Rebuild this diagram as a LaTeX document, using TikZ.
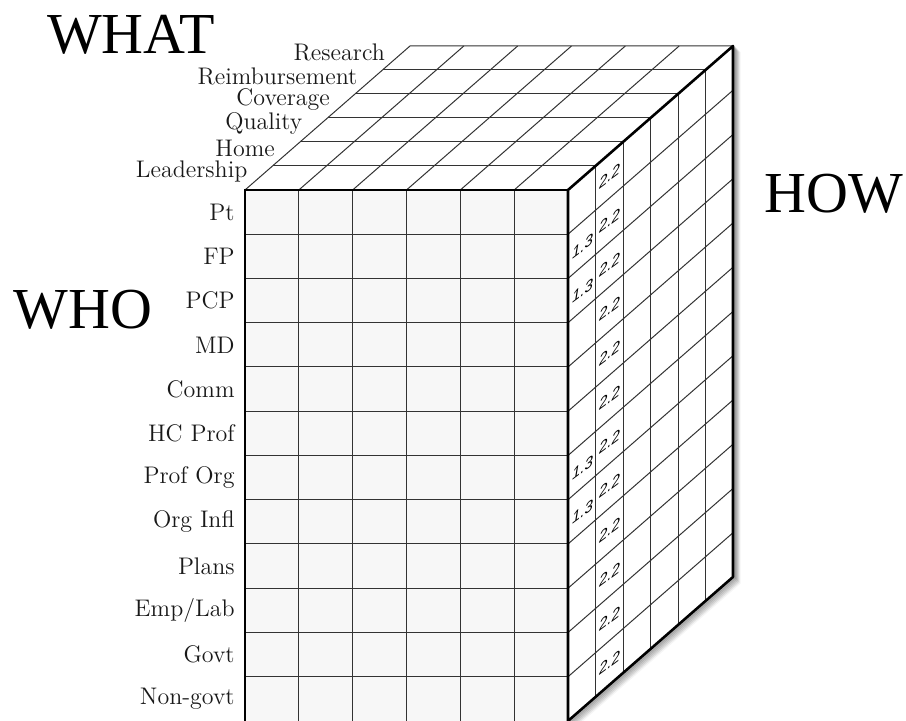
\documentclass[tikz,border=0pt]{standalone}
\usepackage{fontspec}
\usetikzlibrary{calc}

\newfontfamily\titlefont{Liberation Serif}
\newfontfamily\scorefont{Liberation Sans}
\newcommand{\colw}{53.83}
\newcommand{\rowh}{44.25}

\begin{document}
\begin{tikzpicture}[x=0.5pt, y=-0.5pt,
    gridline/.style={draw=black!80, line width=0.5pt},
    edgeline/.style={draw=black, line width=1.3pt, line join=round, line cap=round},
    rowlabel/.style={anchor=east, inner sep=0pt, text=black!90, font=\fontsize{12}{14}\selectfont},
    biglabel/.style={inner sep=0pt, text=black, font=\titlefont\fontsize{29}{32}\selectfont},
    score/.style={inner sep=0pt, yslant=0.75, text=black, font=\scorefont\itshape\fontsize{7.5}{8}\selectfont}]

    \useasboundingbox (0,0) rectangle (906,721);

    % shadow under the side face
    \foreach \s in {1,...,6}
        \draw[line width=1.5pt, draw=black, opacity={0.22-0.03*\s}, shift={(\s,\s)}] (568,721) -- (733,577) -- (733,46);

    % front face (who)
    \fill[black!3] (245,190) rectangle (568,721);
    \foreach \c in {1,...,5}
        \draw[gridline] ({245+\colw*\c},190) -- ({245+\colw*\c},721);
    \foreach \r in {1,...,11}
        \draw[gridline] (245,{190+\rowh*\r}) -- (568,{190+\rowh*\r});

    % top face (what)
    \fill[white] (245,190) -- (568,190) -- (733,46) -- (410,46) -- cycle;
    \foreach \j in {1,...,5}
        \draw[gridline] ({245+27.5*\j},{190-24*\j}) -- ({568+27.5*\j},{190-24*\j});
    \foreach \c in {1,...,5}
        \draw[gridline] ({245+\colw*\c},190) -- ({410+\colw*\c},46);
    \draw[gridline] (245,190) -- (410,46) -- (733,46);

    % side face (how)
    \fill[white] (568,190) -- (733,46) -- (733,577) -- (568,721) -- cycle;
    \foreach \j in {1,...,5}
        \draw[gridline] ({568+27.5*\j},{190-24*\j}) -- ({568+27.5*\j},{721-24*\j});
    \foreach \r in {1,...,11}
        \draw[gridline] (568,{190+\rowh*\r}) -- (733,{46+\rowh*\r});

    % outline
    \draw[black, line width=0.8pt] (245,721) -- (245,190) -- (568,190);
    \draw[edgeline] (568,721) -- (568,190) -- (733,46) -- (733,577) -- (568,721);

    % scores on the side face
    \foreach \r in {1,...,12}
        \node[score] (hc\r) at (609.5,{190+\rowh*(\r-0.5)-36}) {2.2};
    \foreach \r in {2,3,7,8}
        \node[score] (lc\r) at (582.5,{190+\rowh*(\r-0.5)-10}) {1.3};

    % row labels
    \foreach \name [count=\r] in {Pt,FP,PCP,MD,Comm,HC Prof,Prof Org,Org Infl,Plans,Emp/Lab,Govt,Non-govt}
        \node[rowlabel] (who\r) at (235,{190+\rowh*(\r-0.5)}) {\name};
    \foreach \name [count=\j] in {Leadership,Home,Quality,Coverage,Reimbursement,Research}
        \node[rowlabel] (what\j) at ({245+27.5*(\j-0.5)-11},{190-24*(\j-0.5)-6}) {\name};

    % axis titles
    \node[biglabel] (whattitle) at (131,35) {WHAT};
    \node[biglabel] (whotitle) at (83,310) {WHO};
    \node[biglabel] (howtitle) at (834,194) {HOW};
\end{tikzpicture}
\end{document}
